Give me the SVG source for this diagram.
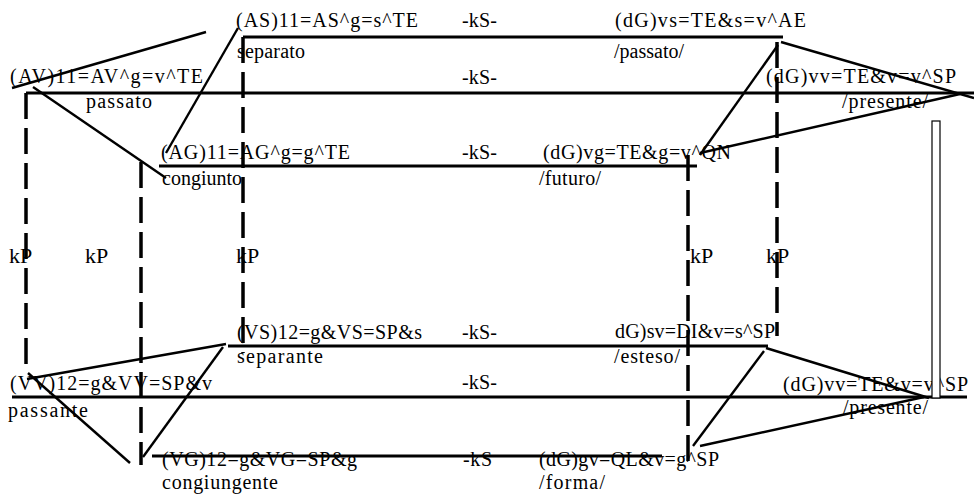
<svg xmlns="http://www.w3.org/2000/svg" width="974" height="495" viewBox="0 0 974 495">
<style>
text{font-family:"Liberation Serif","Times New Roman",serif;font-size:20px;fill:#000}
.kp{font-size:22px}
.h{stroke:#000;stroke-width:3;fill:none}
.v{stroke:#000;stroke-width:3.5;stroke-dasharray:26 9;fill:none}
.d{stroke:#000;stroke-width:2.4;fill:none}
</style>
<rect width="974" height="495" fill="#fff"/>
<g id="AS"><text x="236" y="27" textLength="182" lengthAdjust="spacing">(AS)11=AS^g=s^TE</text><text x="237" y="58" textLength="68" lengthAdjust="spacing">separato</text></g>
<g id="dGvs"><text x="615" y="27" textLength="191" lengthAdjust="spacing">(dG)vs=TE&amp;s=v^AE</text><text x="614" y="58" textLength="70" lengthAdjust="spacing">/passato/</text></g>
<g id="AV"><text x="10" y="83" textLength="193" lengthAdjust="spacing">(AV)11=AV^g=v^TE</text><text x="86" y="108" textLength="66" lengthAdjust="spacing">passato</text></g>
<g id="dGvv1"><text x="766" y="83" textLength="190" lengthAdjust="spacing">(dG)vv=TE&amp;v=v^SP</text><text x="842" y="108" textLength="86" lengthAdjust="spacing">/presente/</text></g>
<g id="AG"><text x="161" y="159" textLength="189" lengthAdjust="spacing">(AG)11=AG^g=g^TE</text><text x="162" y="185" textLength="80" lengthAdjust="spacing">congiunto</text></g>
<g id="dGvg"><text x="543" y="159" textLength="188" lengthAdjust="spacing">(dG)vg=TE&amp;g=v^QN</text><text x="539" y="185" textLength="62" lengthAdjust="spacing">/futuro/</text></g>
<g id="kS-labels">
<text x="462" y="27" textLength="35" lengthAdjust="spacing">-kS-</text>
<text x="462" y="84" textLength="35" lengthAdjust="spacing">-kS-</text>
<text x="462" y="159" textLength="35" lengthAdjust="spacing">-kS-</text>
<text x="462" y="339" textLength="35" lengthAdjust="spacing">-kS-</text>
<text x="462" y="389" textLength="35" lengthAdjust="spacing">-kS-</text>
<text x="463" y="466" textLength="29" lengthAdjust="spacing">-kS</text>
</g>
<g id="kP-labels">
<text class="kp" x="9" y="263">kP</text>
<text class="kp" x="85" y="263">kP</text>
<text class="kp" x="236" y="263">kP</text>
<text class="kp" x="690" y="263">kP</text>
<text class="kp" x="766" y="263">kP</text>
</g>
<g id="VS"><text x="237" y="339" textLength="185" lengthAdjust="spacing">(VS)12=g&amp;VS=SP&amp;s</text><text x="237" y="363" textLength="86" lengthAdjust="spacing">separante</text></g>
<g id="dGsv"><text x="615" y="338" textLength="160" lengthAdjust="spacing">dG)sv=DI&amp;v=s^SP</text><text x="614" y="363" textLength="66" lengthAdjust="spacing">/esteso/</text></g>
<g id="VV"><text x="10" y="390" textLength="202" lengthAdjust="spacing">(VV)12=g&amp;VV=SP&amp;v</text><text x="8" y="417" textLength="80" lengthAdjust="spacing">passante</text></g>
<g id="dGvv2"><text x="783" y="391" textLength="185" lengthAdjust="spacing">(dG)vv=TE&amp;v=v^SP</text><text x="843" y="414" textLength="85" lengthAdjust="spacing">/presente/</text></g>
<g id="VG"><text x="162" y="466" textLength="195" lengthAdjust="spacing">(VG)12=g&amp;VG=SP&amp;g</text><text x="162" y="489" textLength="116" lengthAdjust="spacing">congiungente</text></g>
<g id="dGgv"><text x="539" y="466" textLength="180" lengthAdjust="spacing">(dG)gv=QL&amp;v=g^SP</text><text x="539" y="489" textLength="66" lengthAdjust="spacing">/forma/</text></g>
<g id="connectors">
<line class="h" x1="243" y1="37" x2="783" y2="37"/>
<line class="h" x1="26" y1="93" x2="974" y2="93"/>
<line class="h" x1="159" y1="166" x2="697" y2="166"/>
<line class="h" x1="228" y1="346" x2="768" y2="346"/>
<line class="h" x1="12" y1="397" x2="967" y2="397"/>
<line class="h" x1="152" y1="456" x2="662" y2="456"/>
<line class="v" x1="26" y1="93" x2="26" y2="373"/>
<line class="v" x1="141" y1="162" x2="141" y2="465"/>
<line class="v" x1="243" y1="37" x2="243" y2="353"/>
<line class="v" x1="688" y1="155" x2="688" y2="470"/>
<line class="v" x1="777" y1="42" x2="777" y2="336"/>
<line class="d" x1="12" y1="88" x2="206" y2="32"/>
<line class="d" x1="33" y1="87" x2="166" y2="178"/>
<line class="d" x1="238" y1="28" x2="166" y2="153"/>
<line class="d" x1="781" y1="42" x2="974" y2="98"/>
<line class="d" x1="778" y1="45" x2="700" y2="155"/>
<line class="d" x1="700" y1="153" x2="960" y2="94"/>
<line class="d" x1="27" y1="379" x2="226" y2="344"/>
<line class="d" x1="28" y1="373" x2="130" y2="463"/>
<line class="d" x1="223" y1="347" x2="143" y2="457"/>
<line class="d" x1="766" y1="348" x2="929" y2="398"/>
<line class="d" x1="764" y1="351" x2="693" y2="446"/>
<line class="d" x1="700" y1="446" x2="924" y2="397"/>
<rect x="932" y="121" width="8" height="277" fill="#fff" stroke="#000" stroke-width="1.2"/>
</g>
</svg>
